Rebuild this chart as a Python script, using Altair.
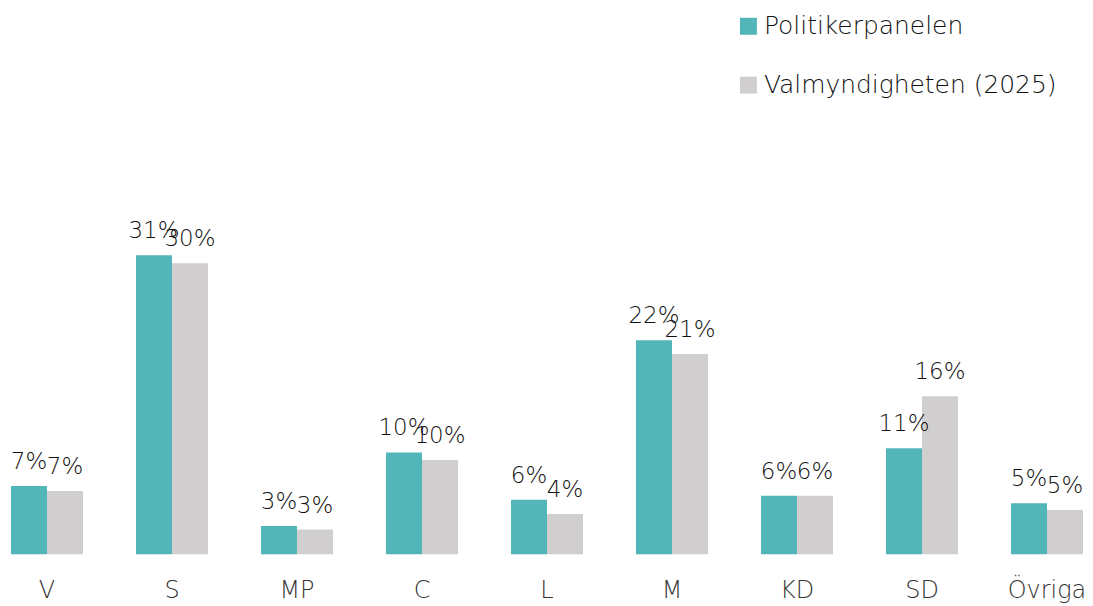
import altair as alt
import pandas as pd

parties = ["V", "S", "MP", "C", "L", "M", "KD", "SD", "Övriga"]
series = ["Politikerpanelen", "Valmyndigheten (2025)"]
politikerpanelen = [7.03, 30.75, 2.92, 10.48, 5.62, 22.03, 6.03, 10.92, 5.25]
valmyndigheten = [6.51, 29.95, 2.54, 9.69, 4.15, 20.6, 6.03, 16.26, 4.56]
colors = ["#52B6B9", "#D0CECF"]

rows = []
for i, p in enumerate(parties):
    rows.append({"party": p, "series": series[0], "value": politikerpanelen[i]})
    rows.append({"party": p, "series": series[1], "value": valmyndigheten[i]})
df = pd.DataFrame(rows)

FONT = "DejaVu Sans"
WEIGHT = 300

base = alt.Chart(df).encode(
    x=alt.X("party:N", sort=parties, title=None,
            scale=alt.Scale(paddingInner=0.424, paddingOuter=0),
            axis=alt.Axis(labelAngle=0, labelFontSize=24, labelColor="#333333",
                          labelFont=FONT, labelFontWeight=WEIGHT, domain=False,
                          ticks=False, tickSize=0, grid=False, labelPadding=24)),
    xOffset=alt.XOffset("series:N", sort=series, scale=alt.Scale(paddingInner=0, paddingOuter=0)),
    y=alt.Y("value:Q", title=None, scale=alt.Scale(domain=[0, 46.67], nice=False, zero=True),
            axis=None),
)

bars = base.mark_bar().encode(
    color=alt.Color("series:N", sort=series, title=None,
                    scale=alt.Scale(domain=series, range=colors),
                    legend=alt.Legend(orient="none", legendX=727, legendY=-87,
                                      symbolType="square", symbolSize=289,
                                      symbolStrokeWidth=0, labelFontSize=25,
                                      labelFont=FONT, labelFontWeight=WEIGHT,
                                      labelColor="#111111", labelOffset=3,
                                      labelLimit=0,
                                      rowPadding=33, padding=0)),
)

labels = base.mark_text(baseline="alphabetic", dy=-17, fontSize=23, font=FONT,
                        fontWeight=WEIGHT, color="#111111").transform_calculate(
    label="format(datum.value, '.0f') + '%'"
).encode(text="label:N")

chart = alt.layer(bars, labels).properties(
    width=1075, height=455,
    autosize=alt.AutoSizeParams(type="none"),
    padding={"left": 3, "top": 92, "right": 2, "bottom": 50},
).configure_view(stroke=None)

chart.save("out.html", embed_options={"renderer": "svg", "actions": False})
